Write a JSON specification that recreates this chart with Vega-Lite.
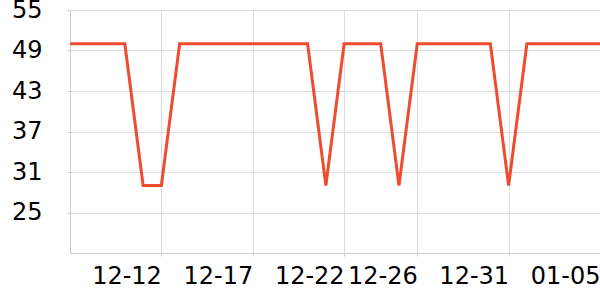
{
  "$schema": "https://vega.github.io/schema/vega-lite/v6.json",
  "width": 530,
  "height": 243,
  "autosize": {"type": "none"},
  "padding": {"left": 70, "top": 10, "right": 0, "bottom": 47},
  "background": "white",
  "config": {"view": {"stroke": null}, "font": "DejaVu Sans"},
  "data": {"values": [
    {"date": "2023-12-07", "value": 50},
    {"date": "2023-12-08", "value": 50},
    {"date": "2023-12-09", "value": 50},
    {"date": "2023-12-10", "value": 50},
    {"date": "2023-12-11", "value": 29},
    {"date": "2023-12-12", "value": 29},
    {"date": "2023-12-13", "value": 50},
    {"date": "2023-12-14", "value": 50},
    {"date": "2023-12-15", "value": 50},
    {"date": "2023-12-16", "value": 50},
    {"date": "2023-12-17", "value": 50},
    {"date": "2023-12-18", "value": 50},
    {"date": "2023-12-19", "value": 50},
    {"date": "2023-12-20", "value": 50},
    {"date": "2023-12-21", "value": 29},
    {"date": "2023-12-22", "value": 50},
    {"date": "2023-12-23", "value": 50},
    {"date": "2023-12-24", "value": 50},
    {"date": "2023-12-25", "value": 29},
    {"date": "2023-12-26", "value": 50},
    {"date": "2023-12-27", "value": 50},
    {"date": "2023-12-28", "value": 50},
    {"date": "2023-12-29", "value": 50},
    {"date": "2023-12-30", "value": 50},
    {"date": "2023-12-31", "value": 29},
    {"date": "2024-01-01", "value": 50},
    {"date": "2024-01-02", "value": 50},
    {"date": "2024-01-03", "value": 50},
    {"date": "2024-01-04", "value": 50},
    {"date": "2024-01-05", "value": 50}
  ]},
  "mark": {"type": "line", "color": "#ef4b2f", "strokeWidth": 3, "clip": true},
  "encoding": {
    "x": {
      "field": "date",
      "type": "temporal",
      "scale": {
        "type": "utc",
        "domain": [
          {"year": 2023, "month": 12, "date": 7, "utc": true},
          {"year": 2024, "month": 1, "date": 5, "utc": true}
        ],
        "nice": false
      },
      "axis": {
        "title": null,
        "values": [
          {"year": 2023, "month": 12, "date": 12, "utc": true},
          {"year": 2023, "month": 12, "date": 17, "utc": true},
          {"year": 2023, "month": 12, "date": 22, "utc": true},
          {"year": 2023, "month": 12, "date": 26, "utc": true},
          {"year": 2023, "month": 12, "date": 31, "utc": true},
          {"year": 2024, "month": 1, "date": 5, "utc": true}
        ],
        "labelExpr": "utcFormat(datum.value, '%m-%d')",
        "labelAlign": "right",
        "labelBaseline": "top",
        "labelFontSize": 24,
        "labelColor": "#000000",
        "labelFont": "DejaVu Sans",
        "labelPadding": 8,
        "labelOverlap": false,
        "labelFlush": false,
        "tickSize": 3,
        "tickColor": "#cccccc",
        "domainColor": "#cccccc",
        "gridColor": "#dddddd",
        "grid": true
      }
    },
    "y": {
      "field": "value",
      "type": "quantitative",
      "scale": {"domain": [19, 55], "nice": false, "zero": false},
      "axis": {
        "title": null,
        "values": [25, 31, 37, 43, 49, 55],
        "labelFontSize": 24,
        "labelColor": "#000000",
        "labelFont": "DejaVu Sans",
        "labelPadding": 25,
        "tickSize": 3,
        "tickColor": "#cccccc",
        "domainColor": "#cccccc",
        "gridColor": "#dddddd",
        "grid": true
      }
    }
  }
}
